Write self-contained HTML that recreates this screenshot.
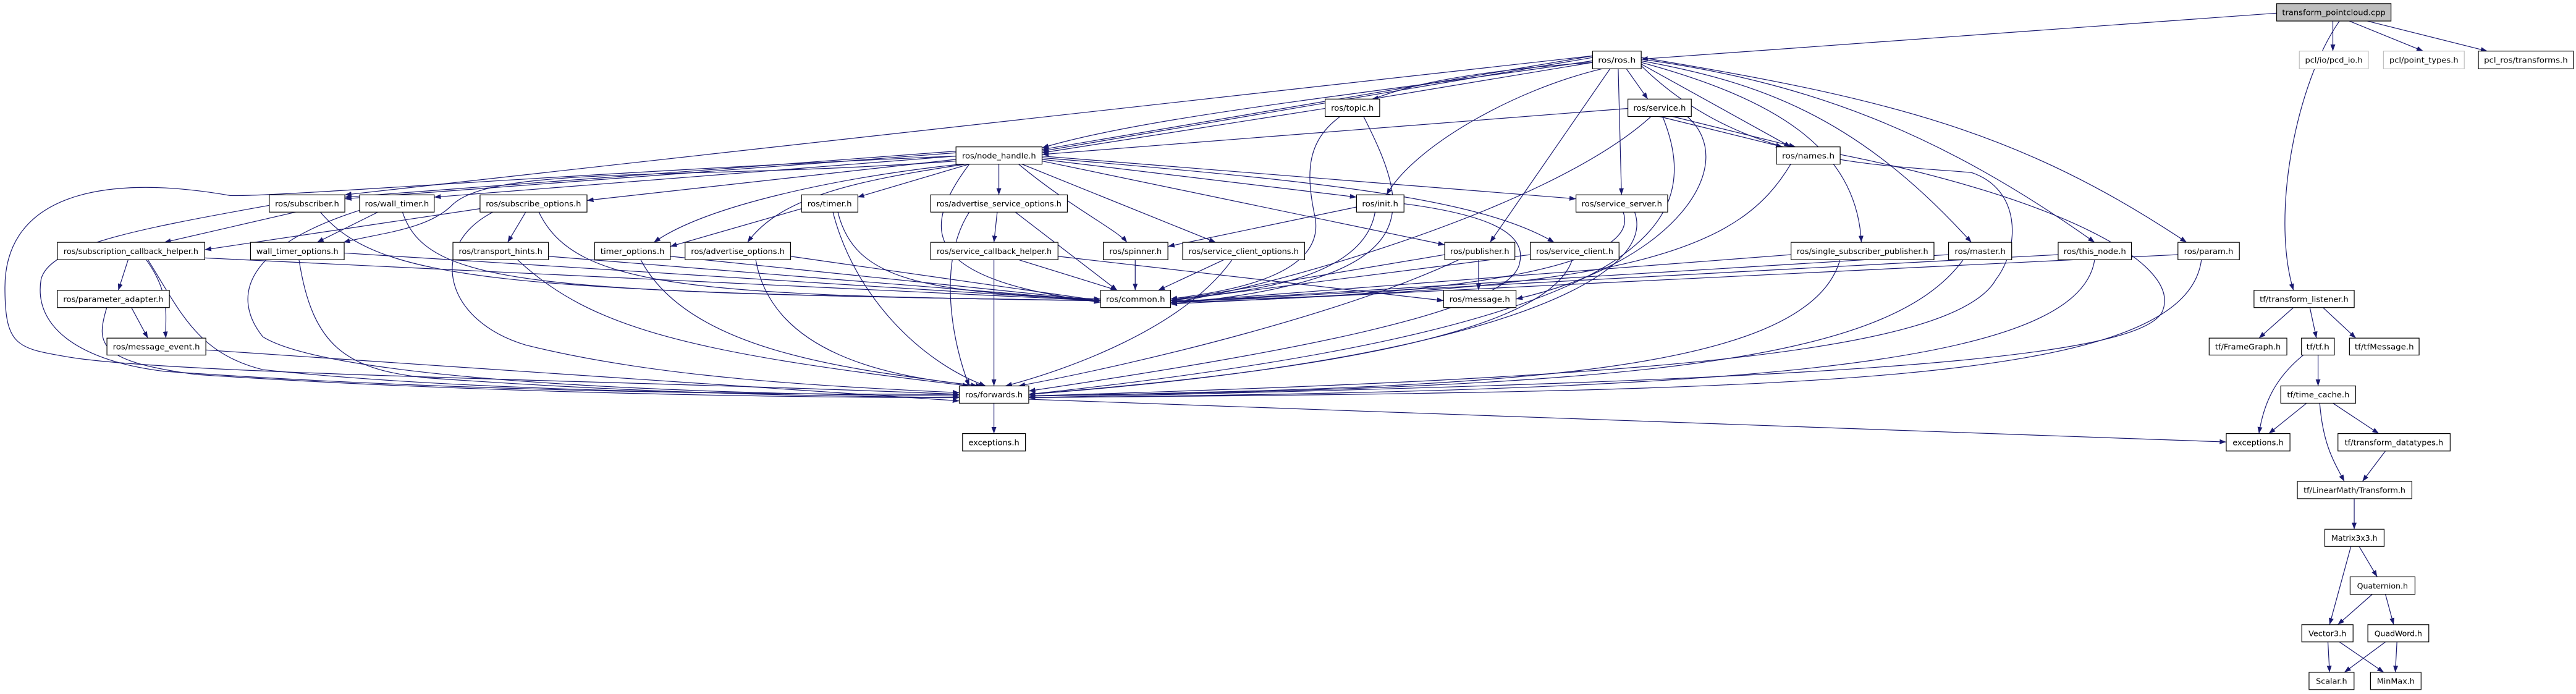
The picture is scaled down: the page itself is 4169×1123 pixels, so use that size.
<!DOCTYPE html>
<html><head><meta charset="utf-8"><style>
html,body{margin:0;padding:0;background:#fff;}
svg{display:block;}
text{font-family:"DejaVu Sans","Liberation Sans",sans-serif;font-size:4.6px;fill:#000;}
.b{fill:#fff;stroke:#000;stroke-width:0.45;}
.g{fill:#fff;stroke:#bfbfbf;stroke-width:0.45;}
.r{fill:#bfbfbf;stroke:#000;stroke-width:0.45;}
.e path{fill:none;stroke:#191970;stroke-width:0.45;marker-end:url(#a);}
</style></head><body>
<svg width="4169" height="1123" viewBox="0 0 1568 422.4" preserveAspectRatio="none" xmlns="http://www.w3.org/2000/svg">
<defs><marker id="a" markerUnits="userSpaceOnUse" markerWidth="4" markerHeight="3" refX="4" refY="1.5" orient="auto"><path d="M0,0 L4,1.5 L0,3 z" fill="#191970"/></marker></defs>
<g class="e">
<!-- tpc -->
<path d="M1385.8,8 L999,36"/>
<path d="M1420,12.8 L1420,31.1"/>
<path d="M1430,12.8 L1475,31.1"/>
<path d="M1441,12.8 L1514,31.1"/>
<path d="M1424,12.8 C1398,50 1382,130 1396,176.7"/>
<!-- ros.h -->
<path d="M969.4,34 L634.3,91"/>
<path d="M969.4,35 L634.3,92"/>
<path d="M969.4,37 C850,55 700,70 634.3,90"/>
<path d="M969.4,38 L835,60.3"/>
<path d="M969.4,34 L209.9,118.6"/>
<path d="M969.4,38 C800,50 790,80 800,130 C810,170 740,178 712.5,182"/>
<path d="M975,41.9 C920,55 860,90 844,118.6"/>
<path d="M980,41.9 L907,147.5"/>
<path d="M985,41.9 L987,118.6"/>
<path d="M990,41.9 L1003,60.3"/>
<path d="M999,39 L1090,89.4"/>
<path d="M999,38 C1080,60 1130,90 1133,147.5"/>
<path d="M999,37 C1070,50 1130,70 1200,147.5"/>
<path d="M999,36 C1100,50 1180,80 1275,147.5"/>
<path d="M999,35 C1150,60 1230,80 1331,147.5"/>
<path d="M999,40 C1060,100 1140,100 1200,105 C1230,115 1230,150 1215,170 C1190,215 1000,230 626.2,241"/>
<!-- names -->
<path d="M1120,94 C1250,120 1330,160 1316,190 C1300,220 1100,232 626.2,242"/>
<path d="M1090,99.9 C1060,150 1000,178 712.5,183"/>
<!-- service -->
<path d="M990.9,66 L634.3,94"/>
<path d="M1010,70.9 L1085,89.4"/>
<path d="M1018,70.9 L1093,89.4"/>
<path d="M1005,70.9 C940,130 760,178 712.5,184"/>
<path d="M1012,70.9 C1040,140 1000,200 626.2,240"/>
<path d="M1027,70.9 C1060,100 1020,160 922.8,182"/>
<!-- topic -->
<path d="M806.6,66 L634.3,93"/>
<path d="M830,70.9 C860,130 870,170 712.5,185"/>
<!-- node_handle -->
<path d="M581.9,92 L209.9,120"/>
<path d="M581.9,93 L209.9,121"/>
<path d="M581.9,95 L264.3,120"/>
<path d="M581.9,97 L357.3,122"/>
<path d="M581.9,98 C420,110 300,100 275,125 C260,140 230,142 209,147.5"/>
<path d="M590,99.9 L522,120"/>
<path d="M585,99.9 C510,108 430,125 398,147.5"/>
<path d="M588,99.9 C520,110 475,120 455,147.5"/>
<path d="M608,99.9 L608,118.6"/>
<path d="M620,99.9 C650,125 680,140 686,147.5"/>
<path d="M622,99.9 L740,147.5"/>
<path d="M634.3,98 L879.4,149"/>
<path d="M634.3,96 C800,110 900,120 946,147.5"/>
<path d="M634.3,97 L825.7,120"/>
<path d="M634.3,95 L959.3,121"/>
<path d="M590,99.9 C560,140 560,170 669.9,184"/>
<path d="M581.9,95 C350,105 170,120 140,119 C60,105 3,120 3,175 C3,210 10,212 40,217 C100,228 400,232 583.9,240"/>
<!-- row4 -->
<path d="M180,129.1 L100,147.5"/>
<path d="M195,129.1 C230,170 300,178 669.9,183"/>
<path d="M163.9,125 C80,140 30,150 25,170 C20,200 50,220 100,226 C300,240 500,240 583.9,240"/>
<path d="M230,129.1 L193,147.5"/>
<path d="M245,129.1 C260,175 330,178 669.9,183"/>
<path d="M218.9,128 C150,150 140,180 160,205 C200,230 400,240 583.9,241"/>
<path d="M292.2,127 L124.6,152"/>
<path d="M320,129.1 L309,147.5"/>
<path d="M328,129.1 C350,175 420,180 669.9,183"/>
<path d="M300,129.1 C260,150 270,195 320,210 C400,230 500,235 583.9,239"/>
<path d="M487.9,127 L408,150"/>
<path d="M510,129.1 C520,170 560,178 669.9,182"/>
<path d="M507,129.1 C520,180 560,220 600,234.9"/>
<path d="M607,129.1 L605,147.5"/>
<path d="M618,129.1 L680,176.7"/>
<path d="M590,129.1 C570,160 580,210 590,234.9"/>
<!-- row5 -->
<path d="M78,158.1 L72,176.7"/>
<path d="M89,158.1 C105,180 100,195 101,205.8"/>
<path d="M124.6,157 L669.9,183"/>
<path d="M90,158.1 C110,190 120,215 160,225 C300,240 500,240 583.9,240"/>
<path d="M209.5,154 L669.9,183"/>
<path d="M182,158.1 C190,210 210,225 260,230 C400,240 500,241 583.9,242"/>
<path d="M333.8,156 L669.9,183"/>
<path d="M315,158.1 C360,200 420,215 590,234.9"/>
<path d="M408,156 L669.9,183"/>
<path d="M390,158.1 C420,215 520,225 595,234.9"/>
<path d="M481.2,156 L669.9,183"/>
<path d="M460,158.1 C470,215 540,230 598,234.9"/>
<path d="M80,187.2 L90,205.8"/>
<path d="M65,187.2 C58,210 60,220 120,228 C300,240 500,242 583.9,242"/>
<path d="M125.3,213 L583.9,244"/>
<path d="M620,158.1 L680,176.7"/>
<path d="M605,158.1 L605,234.9"/>
<path d="M644,156 L878.7,183"/>
<path d="M691,158.1 L691,176.7"/>
<path d="M745,158.1 L705,176.7"/>
<path d="M750,158.1 C720,200 650,225 612,234.9"/>
<path d="M825.7,126 L710.9,150"/>
<path d="M837,129.1 C830,170 760,178 712.5,182"/>
<path d="M854.6,124 C900,130 930,140 925,160 C920,190 780,215 626.2,238"/>
<path d="M988,129.1 C1000,160 900,180 712.5,184"/>
<path d="M995,129.1 C1010,170 900,220 626.2,240"/>
<path d="M900,158.1 L900,176.7"/>
<path d="M879.4,155 L712.5,183"/>
<path d="M888,158.1 C820,190 700,220 620,234.9"/>
<path d="M931.5,155 L712.5,183"/>
<path d="M957,158.1 C940,210 750,230 626.2,240"/>
<path d="M1090.2,155 L712.5,184"/>
<path d="M1120,158.1 C1100,230 900,236 626.2,241"/>
<path d="M1186.1,155 L712.5,184"/>
<path d="M1195,158.1 C1150,220 1000,236 626.2,241"/>
<path d="M1252.8,155 L712.5,184"/>
<path d="M1275,158.1 C1265,225 1050,238 626.2,242"/>
<path d="M1325.7,155 L712.5,185"/>
<path d="M1340,158.1 C1330,235 1100,238 626.2,242"/>
<!-- forwards -->
<path d="M605,245.4 L605,263.9"/>
<path d="M626.2,243 L1355.1,269"/>
<!-- tf -->
<path d="M1396,187.2 L1375,205.8"/>
<path d="M1406,187.2 L1410,205.8"/>
<path d="M1414,187.2 L1434,205.8"/>
<path d="M1411,216.1 L1411,234.9"/>
<path d="M1402,216.1 C1385,230 1378,245 1375,263.9"/>
<path d="M1404,245.4 L1381,263.9"/>
<path d="M1420,245.4 L1448,263.9"/>
<path d="M1412,245.4 C1414,270 1420,280 1427,293"/>
<path d="M1452,274.5 L1438,293"/>
<path d="M1433,303.5 L1433,322.1"/>
<path d="M1436,332.6 L1447,351.1"/>
<path d="M1431,332.6 L1418,380.2"/>
<path d="M1444,361.7 L1423,380.2"/>
<path d="M1452,361.7 L1457,380.2"/>
<path d="M1417,390.7 L1418,409.2"/>
<path d="M1424,390.7 L1451,409.2"/>
<path d="M1452,390.7 L1427,409.2"/>
<path d="M1459,390.7 L1458,409.2"/>
</g>
<g>
<rect class="r" x="1385.8" y="2.2" width="69.6" height="10.6"/><text x="1420.6" y="9.2" text-anchor="middle" textLength="63" lengthAdjust="spacingAndGlyphs">transform_pointcloud.cpp</text>
<rect class="b" x="969.4" y="31.1" width="29.6" height="10.8"/><text x="984.2" y="38.2" text-anchor="middle" textLength="23" lengthAdjust="spacingAndGlyphs">ros/ros.h</text>
<rect class="g" x="1399.6" y="31.1" width="42" height="10.8"/><text x="1420.6" y="38.2" text-anchor="middle" textLength="35" lengthAdjust="spacingAndGlyphs">pcl/io/pcd_io.h</text>
<rect class="g" x="1450.8" y="31.1" width="49.2" height="10.8"/><text x="1475.4" y="38.2" text-anchor="middle" textLength="42" lengthAdjust="spacingAndGlyphs">pcl/point_types.h</text>
<rect class="b" x="1508.6" y="31.1" width="57.8" height="10.8"/><text x="1537.5" y="38.2" text-anchor="middle" textLength="51" lengthAdjust="spacingAndGlyphs">pcl_ros/transforms.h</text>
<rect class="b" x="806.6" y="60.3" width="33.2" height="10.6"/><text x="823.2" y="67.3" text-anchor="middle" textLength="26" lengthAdjust="spacingAndGlyphs">ros/topic.h</text>
<rect class="b" x="990.9" y="60.3" width="38.6" height="10.6"/><text x="1010.2" y="67.3" text-anchor="middle" textLength="32" lengthAdjust="spacingAndGlyphs">ros/service.h</text>
<rect class="b" x="581.9" y="89.4" width="52.4" height="10.5"/><text x="608.1" y="96.4" text-anchor="middle" textLength="45" lengthAdjust="spacingAndGlyphs">ros/node_handle.h</text>
<rect class="b" x="1081.3" y="89.4" width="38.8" height="10.5"/><text x="1100.7" y="96.4" text-anchor="middle" textLength="32" lengthAdjust="spacingAndGlyphs">ros/names.h</text>
<rect class="b" x="163.9" y="118.6" width="46" height="10.5"/><text x="186.9" y="125.6" text-anchor="middle" textLength="39" lengthAdjust="spacingAndGlyphs">ros/subscriber.h</text>
<rect class="b" x="218.9" y="118.6" width="45.4" height="10.5"/><text x="241.6" y="125.6" text-anchor="middle" textLength="39" lengthAdjust="spacingAndGlyphs">ros/wall_timer.h</text>
<rect class="b" x="292.2" y="118.6" width="65.1" height="10.5"/><text x="324.7" y="125.6" text-anchor="middle" textLength="58" lengthAdjust="spacingAndGlyphs">ros/subscribe_options.h</text>
<rect class="b" x="487.9" y="118.6" width="34.3" height="10.5"/><text x="505" y="125.6" text-anchor="middle" textLength="27" lengthAdjust="spacingAndGlyphs">ros/timer.h</text>
<rect class="b" x="566.5" y="118.6" width="83.2" height="10.5"/><text x="608.1" y="125.6" text-anchor="middle" textLength="76" lengthAdjust="spacingAndGlyphs">ros/advertise_service_options.h</text>
<rect class="b" x="825.7" y="118.6" width="28.9" height="10.5"/><text x="840.1" y="125.6" text-anchor="middle" textLength="22" lengthAdjust="spacingAndGlyphs">ros/init.h</text>
<rect class="b" x="959.3" y="118.6" width="55.8" height="10.5"/><text x="987.2" y="125.6" text-anchor="middle" textLength="49" lengthAdjust="spacingAndGlyphs">ros/service_server.h</text>
<rect class="b" x="34.9" y="147.5" width="89.7" height="10.6"/><text x="79.7" y="154.6" text-anchor="middle" textLength="82" lengthAdjust="spacingAndGlyphs">ros/subscription_callback_helper.h</text>
<rect class="b" x="152.5" y="147.5" width="57" height="10.6"/><text x="181" y="154.6" text-anchor="middle" textLength="50" lengthAdjust="spacingAndGlyphs">wall_timer_options.h</text>
<rect class="b" x="275.7" y="147.5" width="58.1" height="10.6"/><text x="304.7" y="154.6" text-anchor="middle" textLength="51" lengthAdjust="spacingAndGlyphs">ros/transport_hints.h</text>
<rect class="b" x="362" y="147.5" width="46" height="10.6"/><text x="385" y="154.6" text-anchor="middle" textLength="39" lengthAdjust="spacingAndGlyphs">timer_options.h</text>
<rect class="b" x="417" y="147.5" width="64.2" height="10.6"/><text x="449.1" y="154.6" text-anchor="middle" textLength="57" lengthAdjust="spacingAndGlyphs">ros/advertise_options.h</text>
<rect class="b" x="566.5" y="147.5" width="77.5" height="10.6"/><text x="605.2" y="154.6" text-anchor="middle" textLength="70" lengthAdjust="spacingAndGlyphs">ros/service_callback_helper.h</text>
<rect class="b" x="671.6" y="147.5" width="39.3" height="10.6"/><text x="691.2" y="154.6" text-anchor="middle" textLength="32" lengthAdjust="spacingAndGlyphs">ros/spinner.h</text>
<rect class="b" x="719.9" y="147.5" width="74.2" height="10.6"/><text x="757" y="154.6" text-anchor="middle" textLength="67" lengthAdjust="spacingAndGlyphs">ros/service_client_options.h</text>
<rect class="b" x="879.4" y="147.5" width="42.7" height="10.6"/><text x="900.7" y="154.6" text-anchor="middle" textLength="36" lengthAdjust="spacingAndGlyphs">ros/publisher.h</text>
<rect class="b" x="931.5" y="147.5" width="54" height="10.6"/><text x="958.5" y="154.6" text-anchor="middle" textLength="47" lengthAdjust="spacingAndGlyphs">ros/service_client.h</text>
<rect class="b" x="1090.2" y="147.5" width="87" height="10.6"/><text x="1133.7" y="154.6" text-anchor="middle" textLength="80" lengthAdjust="spacingAndGlyphs">ros/single_subscriber_publisher.h</text>
<rect class="b" x="1186.1" y="147.5" width="38.4" height="10.6"/><text x="1205.3" y="154.6" text-anchor="middle" textLength="31" lengthAdjust="spacingAndGlyphs">ros/master.h</text>
<rect class="b" x="1252.8" y="147.5" width="44.6" height="10.6"/><text x="1275.1" y="154.6" text-anchor="middle" textLength="38" lengthAdjust="spacingAndGlyphs">ros/this_node.h</text>
<rect class="b" x="1325.7" y="147.5" width="37.4" height="10.6"/><text x="1344.4" y="154.6" text-anchor="middle" textLength="30" lengthAdjust="spacingAndGlyphs">ros/param.h</text>
<rect class="b" x="34.9" y="176.7" width="68.2" height="10.5"/><text x="69" y="183.7" text-anchor="middle" textLength="61" lengthAdjust="spacingAndGlyphs">ros/parameter_adapter.h</text>
<rect class="b" x="669.9" y="176.7" width="42.6" height="10.5"/><text x="691.2" y="183.7" text-anchor="middle" textLength="36" lengthAdjust="spacingAndGlyphs">ros/common.h</text>
<rect class="b" x="878.7" y="176.7" width="44.1" height="10.5"/><text x="900.7" y="183.7" text-anchor="middle" textLength="37" lengthAdjust="spacingAndGlyphs">ros/message.h</text>
<rect class="b" x="1372" y="176.7" width="61" height="10.5"/><text x="1402.5" y="183.7" text-anchor="middle" textLength="54" lengthAdjust="spacingAndGlyphs">tf/transform_listener.h</text>
<rect class="b" x="65.1" y="205.8" width="60.2" height="10.3"/><text x="95.2" y="212.7" text-anchor="middle" textLength="53" lengthAdjust="spacingAndGlyphs">ros/message_event.h</text>
<rect class="b" x="1344.7" y="205.8" width="47.3" height="10.3"/><text x="1368.3" y="212.7" text-anchor="middle" textLength="40" lengthAdjust="spacingAndGlyphs">tf/FrameGraph.h</text>
<rect class="b" x="1400.9" y="205.8" width="20" height="10.3"/><text x="1410.9" y="212.7" text-anchor="middle" textLength="14" lengthAdjust="spacingAndGlyphs">tf/tf.h</text>
<rect class="b" x="1430.1" y="205.8" width="42.4" height="10.3"/><text x="1451.3" y="212.7" text-anchor="middle" textLength="36" lengthAdjust="spacingAndGlyphs">tf/tfMessage.h</text>
<rect class="b" x="583.9" y="234.9" width="42.3" height="10.5"/><text x="605" y="241.9" text-anchor="middle" textLength="35" lengthAdjust="spacingAndGlyphs">ros/forwards.h</text>
<rect class="b" x="1388.3" y="234.9" width="45.6" height="10.5"/><text x="1411.1" y="241.9" text-anchor="middle" textLength="38" lengthAdjust="spacingAndGlyphs">tf/time_cache.h</text>
<rect class="b" x="585.9" y="263.9" width="38.3" height="10.6"/><text x="605" y="271" text-anchor="middle" textLength="31" lengthAdjust="spacingAndGlyphs">exceptions.h</text>
<rect class="b" x="1355.1" y="263.9" width="38.8" height="10.6"/><text x="1374.5" y="271" text-anchor="middle" textLength="31" lengthAdjust="spacingAndGlyphs">exceptions.h</text>
<rect class="b" x="1423.1" y="263.9" width="68.3" height="10.6"/><text x="1457.2" y="271" text-anchor="middle" textLength="60" lengthAdjust="spacingAndGlyphs">tf/transform_datatypes.h</text>
<rect class="b" x="1398.4" y="293" width="69.7" height="10.5"/><text x="1433.2" y="300" text-anchor="middle" textLength="62" lengthAdjust="spacingAndGlyphs">tf/LinearMath/Transform.h</text>
<rect class="b" x="1415.1" y="322.1" width="36.1" height="10.5"/><text x="1433.1" y="329.1" text-anchor="middle" textLength="28" lengthAdjust="spacingAndGlyphs">Matrix3x3.h</text>
<rect class="b" x="1430.5" y="351.1" width="39.5" height="10.6"/><text x="1450.2" y="358.2" text-anchor="middle" textLength="31" lengthAdjust="spacingAndGlyphs">Quaternion.h</text>
<rect class="b" x="1401.1" y="380.2" width="31.2" height="10.5"/><text x="1416.7" y="387.2" text-anchor="middle" textLength="23" lengthAdjust="spacingAndGlyphs">Vector3.h</text>
<rect class="b" x="1441.3" y="380.2" width="37.1" height="10.5"/><text x="1459.8" y="387.2" text-anchor="middle" textLength="29" lengthAdjust="spacingAndGlyphs">QuadWord.h</text>
<rect class="b" x="1405.5" y="409.2" width="27.4" height="10.5"/><text x="1419.2" y="416.2" text-anchor="middle" textLength="19" lengthAdjust="spacingAndGlyphs">Scalar.h</text>
<rect class="b" x="1442.9" y="409.2" width="30.8" height="10.5"/><text x="1458.3" y="416.2" text-anchor="middle" textLength="23" lengthAdjust="spacingAndGlyphs">MinMax.h</text>
</g>
</svg>
</body></html>
